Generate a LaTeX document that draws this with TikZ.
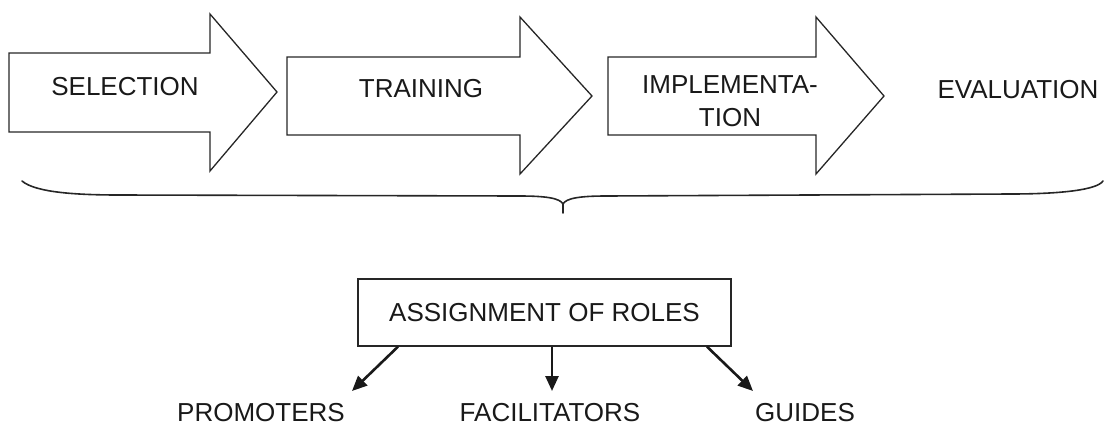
\documentclass[tikz,border=0pt]{standalone}
\usepackage{fontspec}
\setmainfont{Liberation Sans}
\usetikzlibrary{arrows.meta}
\tikzset{
  shape line/.style={draw=black!85, line width=1.3bp, line join=miter},
  lbl/.style={inner sep=0pt, font=\fontsize{26bp}{33bp}\selectfont, text=black!90},
  caplbl/.style={lbl, text height=18.6bp, text depth=0pt},
  rolebox/.style={draw=black!85, line width=1.3bp, minimum width=373bp, minimum height=67bp, inner sep=0pt, font=\fontsize{26bp}{33bp}\selectfont, text=black!90, text height=18.6bp, text depth=0pt},
  role arrow/.style={draw=black!90, line width=2.6bp, -{Triangle[length=15bp,width=13bp]}},
  brace line/.style={draw=black!85, line width=1.6bp, line cap=round}
}
\begin{document}
\begin{tikzpicture}[x=1bp,y=-1bp]
\useasboundingbox (0,0) rectangle (1105,425);
% process arrows
\draw[shape line] (9,53) -- (210,53) -- (210,14) -- (277,92) -- (210,171) -- (210,132) -- (9,132) -- cycle;
\draw[shape line] (287,57) -- (520,57) -- (520,17) -- (592,96) -- (520,174) -- (520,135) -- (287,135) -- cycle;
\draw[shape line] (608,57) -- (816,57) -- (816,17) -- (884,96) -- (816,174) -- (816,135) -- (608,135) -- cycle;
\node[caplbl] (sel) at (125,86) {SELECTION};
\node[caplbl] (tra) at (421,88) {TRAINING};
\node[lbl, align=center] (imp) at (730,101.5) {IMPLEMENTA-\\TION};
\node[caplbl] (eva) at (1018,89) {EVALUATION};
% brace
\draw[brace line] (22,181) .. controls (36,193) and (80,195) .. (120,195)
  -- (520,196) .. controls (545,196) and (560,198) .. (563,204) -- (563,213);
\draw[brace line] (563,204) .. controls (566,198) and (581,196) .. (606,196)
  -- (1010,194) .. controls (1060,194) and (1097,190) .. (1103,181);
% roles
\node[rolebox] (roles) at (544.5,312.5) {ASSIGNMENT OF ROLES};
\node[caplbl] (prom) at (261,412) {PROMOTERS};
\node[caplbl] (fac) at (550,412) {FACILITATORS};
\node[caplbl] (gui) at (805,412) {GUIDES};
\coordinate (tp) at (352,391);
\coordinate (tf) at (552,391);
\coordinate (tg) at (753,391);
\draw[role arrow] (roles.south -| 398,0) -- (tp);
\draw[role arrow] (roles.south -| tf) -- (tf);
\draw[role arrow] (roles.south -| 707,0) -- (tg);
\end{tikzpicture}
\end{document}
